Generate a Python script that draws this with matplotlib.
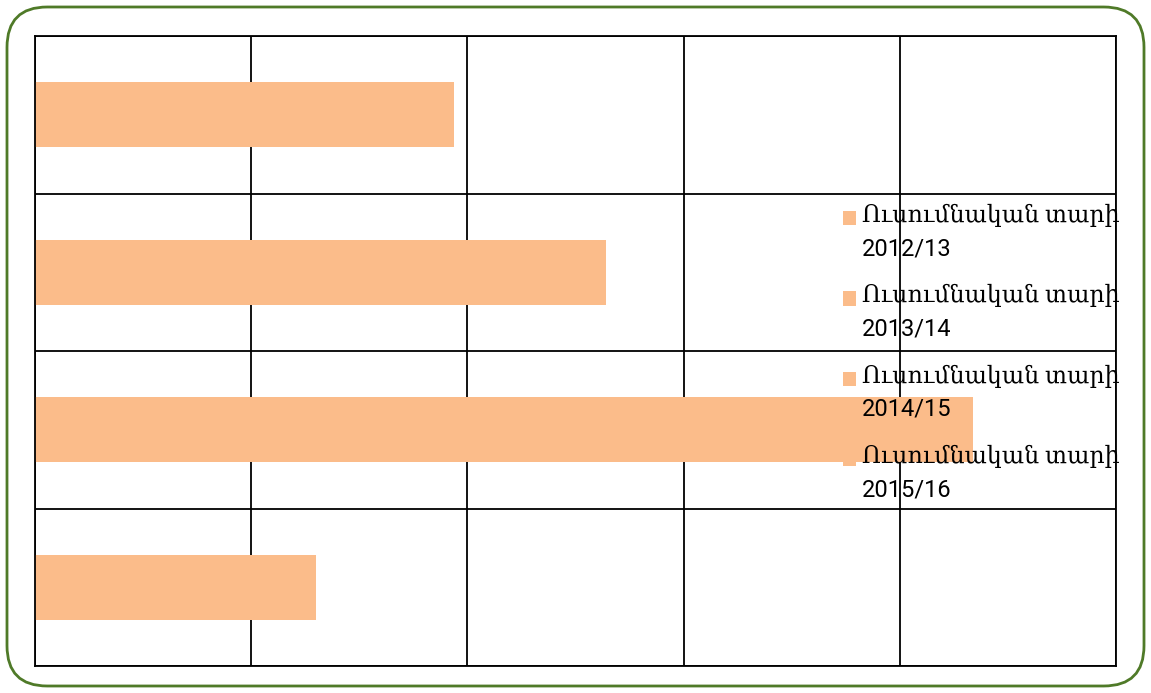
import matplotlib.pyplot as plt
from matplotlib.patches import FancyBboxPatch, Patch, Rectangle
from matplotlib.legend_handler import HandlerPatch

# Data (top to bottom as drawn)
periodi = ["2012/13", "2013/14", "2014/15", "2015/16"]
valori = [1.94, 2.64, 4.34, 1.30]
etichette = ["Ուսումնական տարի\n" + p for p in periodi]

COLORE_BARRA = "#FBBC8A"
COLORE_BORDO = "#4F7A28"

plt.rcParams["font.family"] = ["Roboto", "DejaVu Serif"]

fig = plt.figure(figsize=(11.51, 6.93), dpi=100)
ax = fig.add_axes([35 / 1151, 1 - 666 / 693, (1116 - 35) / 1151, (666 - 36) / 693])

# rounded frame around the chart area
cornice = FancyBboxPatch((7 / 1151, 7 / 693), 1137 / 1151, 679 / 693,
                         boxstyle="round,pad=0,rounding_size=0.035",
                         transform=fig.transFigure, facecolor="none",
                         edgecolor=COLORE_BORDO, linewidth=2,
                         mutation_aspect=1151 / 693)
fig.patches.append(cornice)

y = list(range(len(periodi)))
ax.barh(y, valori, height=0.41, color=COLORE_BARRA, edgecolor="none", zorder=2)

ax.set_xlim(0, 5)
ax.set_ylim(len(periodi) - 0.5, -0.5)
ax.set_xticks(range(0, 6))
ax.set_yticks([i - 0.5 for i in range(len(periodi) + 1)])
ax.tick_params(length=0, labelleft=False, labelbottom=False)
ax.grid(True, color="black", linewidth=1.3, zorder=0)
ax.set_axisbelow(True)
for s in ax.spines.values():
    s.set_color("black")
    s.set_linewidth(1.3)


def quadratino_alto(legend, orig_handle, xdescent, ydescent, width, height, fontsize):
    # marker aligned with the first line of the two-line label
    return Rectangle((-xdescent, -ydescent + 0.62 * fontsize), width, height)


handles = [Patch(facecolor=COLORE_BARRA, edgecolor="none") for _ in periodi]
leg = fig.legend(handles, etichette, loc="upper left",
                 bbox_to_anchor=(843 / 1151, 1 - 204 / 693),
                 frameon=False, fontsize=17, handlelength=0.55,
                 handleheight=0.55, handletextpad=0.25, labelspacing=1.02,
                 borderaxespad=0, borderpad=0,
                 handler_map={Patch: HandlerPatch(patch_func=quadratino_alto)})
for t in leg.get_texts():
    t.set_linespacing(1.56)

fig.savefig("out.png", dpi=100)
